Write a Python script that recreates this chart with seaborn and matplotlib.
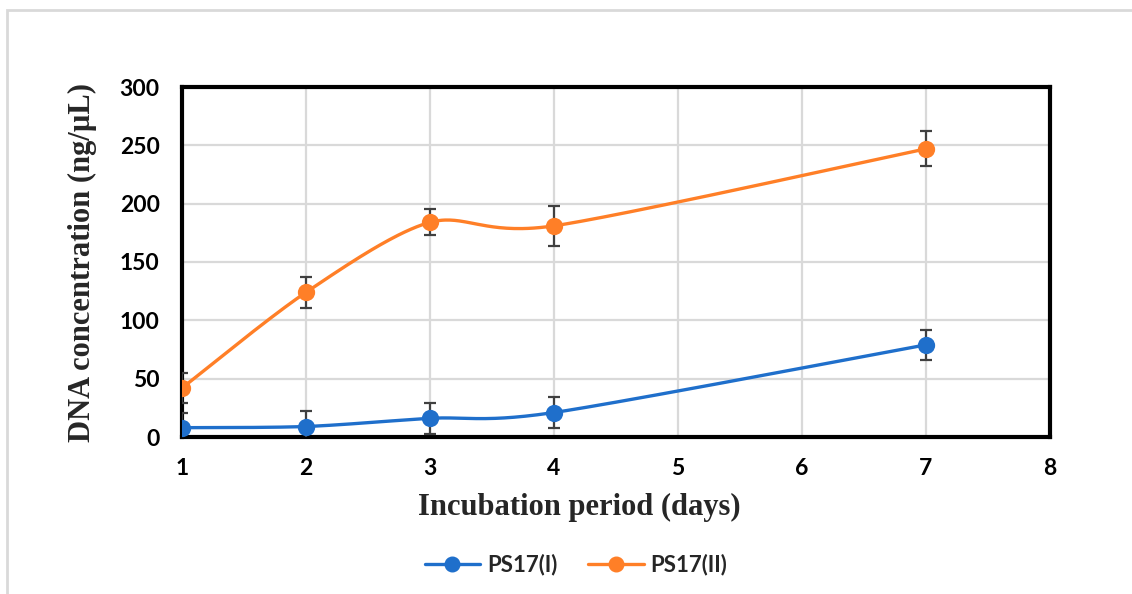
import numpy as np
import pandas as pd
import matplotlib
matplotlib.use("Agg")
import matplotlib.pyplot as plt
from matplotlib.lines import Line2D
from matplotlib.patches import Rectangle
import seaborn as sns

# ---- data ----
days = [1, 2, 3, 4, 7]
ps17_I = [8, 9, 16, 21, 79]
ps17_I_err = [13, 13, 13, 13, 13]
ps17_II = [42, 124, 184, 181, 247]
ps17_II_err = [13, 13, 11, 17, 15]
series_names = ["PS17(I)", "PS17(II)"]
x_ticks = [1, 2, 3, 4, 5, 6, 7, 8]
y_ticks = [0, 50, 100, 150, 200, 250, 300]

colors = ["#1F6FCB", "#FF7F27"]

sns.set_theme(style="whitegrid")
plt.rcParams['font.family'] = ['Lato', 'DejaVu Sans']

W, H = 1132, 594
fig = plt.figure(figsize=(W / 100, H / 100), dpi=100)
ax = fig.add_axes([182 / W, 1 - 437 / H, (1050 - 182) / W, (437 - 87) / H])

# outer light-gray frame (open at right/bottom as in the reference crop)
fig.patches.append(Rectangle((7 / W, -0.1), 1.2, 1 - 10 / H + 0.1, transform=fig.transFigure,
                             fill=False, edgecolor="#D9D9D9", linewidth=2.0, zorder=0))

px_x = (1050 - 182) / 7.0
px_y = 350 / 300.0


def smooth(xs, ys, n=60, k=7.0):
    # Excel-style smoothed line (Bezier with Catmull-Rom-like control points) in screen space
    P = np.column_stack([np.array(xs, float) * px_x, np.array(ys, float) * px_y])
    out = []
    for i in range(len(P) - 1):
        p0 = P[i - 1] if i > 0 else P[i]
        p1 = P[i]
        p2 = P[i + 1]
        p3 = P[i + 2] if i + 2 < len(P) else P[i + 1]
        c1 = p1 + (p2 - p0) / k
        c2 = p2 - (p3 - p1) / k
        t = np.linspace(0, 1, n)[:, None]
        seg = (1 - t) ** 3 * p1 + 3 * (1 - t) ** 2 * t * c1 + 3 * (1 - t) * t ** 2 * c2 + t ** 3 * p2
        out.append(seg if i == 0 else seg[1:])
    S = np.vstack(out)
    return S[:, 0] / px_x, S[:, 1] / px_y


for name, vals, errs, c in zip(series_names, [ps17_I, ps17_II], [ps17_I_err, ps17_II_err], colors):
    sx, sy = smooth(days, vals)
    df_s = pd.DataFrame({"x": sx, "y": sy})
    sns.lineplot(data=df_s, x="x", y="y", sort=False, color=c, linewidth=2.4, ax=ax, zorder=3)
    ax.errorbar(days, vals, yerr=errs, fmt="none", ecolor="#404040", elinewidth=1.6,
                capsize=4.5, capthick=1.6, zorder=4)
    df_p = pd.DataFrame({"x": days, "y": vals})
    sns.scatterplot(data=df_p, x="x", y="y", color=c, s=155, edgecolor=c, linewidth=0, ax=ax, zorder=5)

ax.set_xlim(1, 8)
ax.set_ylim(0, 300)
ax.set_xticks(x_ticks)
ax.set_yticks(y_ticks)
ax.set_xticklabels([str(v) for v in x_ticks], fontsize=16.5, fontweight="bold")
ax.set_yticklabels([str(v) for v in y_ticks], fontsize=16.5, fontweight="bold")
ax.tick_params(axis="both", length=0, colors="black")
ax.tick_params(axis="y", pad=16)
ax.tick_params(axis="x", pad=15)
ax.grid(True, color="#D9D9D9", linewidth=1.6)
ax.set_axisbelow(True)
ax.set_facecolor("white")
for sp in ax.spines.values():
    sp.set_visible(True)
    sp.set_color("black")
    sp.set_linewidth(3.0)

ax.set_xlabel("Incubation period (days)", fontsize=22, fontweight="bold",
              family=["Liberation Serif"])
ax.xaxis.set_label_coords((579 - 182) / 868, -(507 - 437) / 350, transform=ax.transAxes)
ax.xaxis.label.set_va("center")
ax.set_ylabel("DNA concentration (ng/µL)", fontsize=22, fontweight="bold",
              family=["Liberation Serif"], labelpad=16)

handles = [Line2D([0], [0], color=c, linewidth=2.4, marker="o", markersize=10.5) for c in colors]
fig.legend(handles, series_names, loc="center", bbox_to_anchor=(576 / W, 1 - 565 / H), ncol=2,
           frameon=False, prop={"family": "Lato", "weight": "bold", "size": 16},
           handlelength=2.5, columnspacing=1.4, handletextpad=0.3)

fig.savefig("out.png", dpi=100, facecolor="white")
